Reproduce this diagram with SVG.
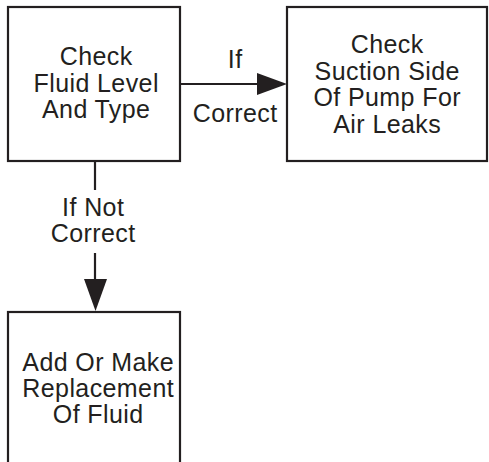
<svg xmlns="http://www.w3.org/2000/svg" width="489" height="462" viewBox="0 0 489 462">
<style>
.box{fill:#fff;stroke:#231f20;stroke-width:2.2}
.t{font-family:"Liberation Sans",Arial,sans-serif;font-size:25px;letter-spacing:0.4px;fill:#231f20;text-anchor:middle}
.ln{stroke:#231f20;stroke-width:2.2;fill:none}
.ah{fill:#231f20}
</style>
<rect width="489" height="462" fill="#fff"/>
<g id="node-check-fluid">
<rect class="box" x="8" y="7" width="172" height="154"/>
<text class="t" x="96.2" y="65">Check</text>
<text class="t" x="96.2" y="92">Fluid Level</text>
<text class="t" x="96.2" y="118">And Type</text>
</g>
<g id="node-check-suction">
<rect class="box" x="287" y="7" width="200" height="154"/>
<text class="t" x="387.2" y="53">Check</text>
<text class="t" x="387.2" y="80">Suction Side</text>
<text class="t" x="387.2" y="106">Of Pump For</text>
<text class="t" x="387.2" y="133">Air Leaks</text>
</g>
<g id="node-add-fluid">
<rect class="box" x="8" y="312" width="172" height="160"/>
<text class="t" x="98.2" y="371">Add Or Make</text>
<text class="t" x="98.2" y="397">Replacement</text>
<text class="t" x="98.2" y="423">Of Fluid</text>
</g>
<g id="connectors">
<line class="ln" x1="180" y1="84" x2="258" y2="84"/>
<polygon class="ah" points="257,73 287,84 257,95"/>
<text class="t" x="235.2" y="68">If</text>
<text class="t" x="235.2" y="122">Correct</text>
<line class="ln" x1="95" y1="161" x2="95" y2="190"/>
<line class="ln" x1="95" y1="253" x2="95" y2="280"/>
<polygon class="ah" points="84,279 107,279 95.5,311"/>
<text class="t" x="93.2" y="216">If Not</text>
<text class="t" x="93.2" y="242">Correct</text>
</g>
</svg>
